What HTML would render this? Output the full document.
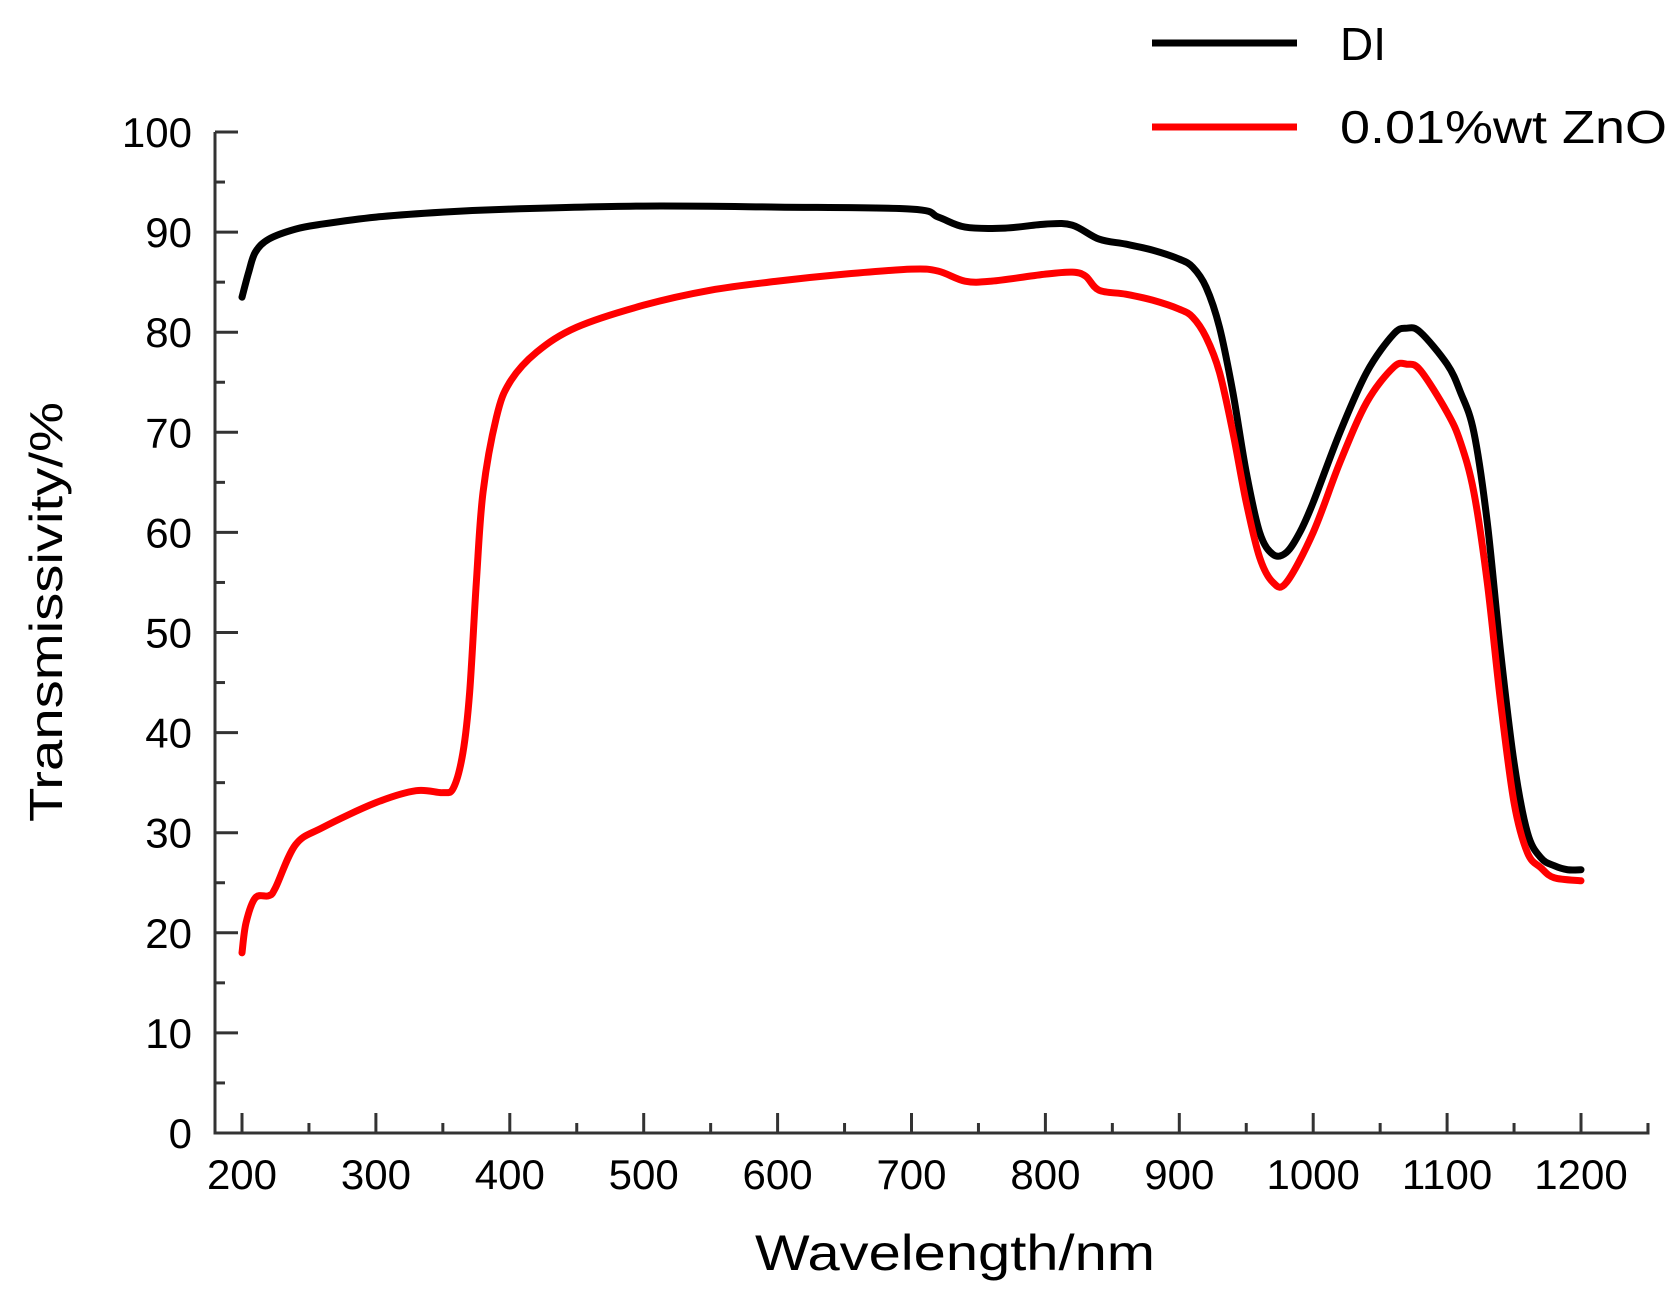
<!DOCTYPE html>
<html><head><meta charset="utf-8"><style>
html,body{margin:0;padding:0;background:#fff;}
svg{display:block;}
text{font-family:"Liberation Sans",sans-serif;fill:#000;}
</style></head><body>
<svg id="s" width="1680" height="1304" viewBox="0 0 1680 1304" xmlns="http://www.w3.org/2000/svg">
<g id="axes" stroke="#333" stroke-width="3" fill="none"></g>
<g id="lbl"></g>
<path id="di" fill="none" stroke="#000" stroke-width="7" stroke-linejoin="round" stroke-linecap="round"/>
<path id="zn" fill="none" stroke="#f00" stroke-width="7" stroke-linejoin="round" stroke-linecap="round"/>
<line x1="1152" y1="43" x2="1297" y2="43" stroke="#000" stroke-width="7"/>
<line x1="1152" y1="127" x2="1297" y2="127" stroke="#f00" stroke-width="7"/>
<text x="1340" y="60" font-size="46">DI</text>
<text x="1340" y="143" font-size="46" textLength="327" lengthAdjust="spacingAndGlyphs">0.01%wt ZnO</text>
<text x="955" y="1270" font-size="50" text-anchor="middle" textLength="400" lengthAdjust="spacingAndGlyphs">Wavelength/nm</text>
<text transform="translate(62,612) rotate(-90)" font-size="46" text-anchor="middle" textLength="420" lengthAdjust="spacingAndGlyphs">Transmissivity/%</text>
</svg>
<script>
var X=function(w){return 242+1.339*(w-200)},Y=function(v){return 1133-10.01*v};
var ax=document.getElementById('axes'),lb=document.getElementById('lbl'),h='',t='';
h+='<path d="M215 132 L215 1133 L1648 1133 L1648 1123"/>';
for(var v=0;v<=100;v+=5){var y=Y(v);h+='<line x1="215" y1="'+y+'" x2="'+(v%10?225:238)+'" y2="'+y+'"/>';
 if(v%10==0)t+='<text x="192" y="'+(y+15)+'" font-size="42" text-anchor="end">'+v+'</text>';}
for(var w=200;w<=1250;w+=50){var x=X(w);h+='<line x1="'+x+'" y1="1133" x2="'+x+'" y2="'+(w%100?1123:1113)+'"/>';
 if(w%100==0&&w<=1200)t+='<text x="'+x+'" y="1189" font-size="42" text-anchor="middle">'+w+'</text>';}
ax.innerHTML=h;lb.innerHTML=t;
var di=[[200,83.5],[205,86],[210,88],[220,89.3],[240,90.3],[260,90.8],[300,91.5],[350,92],[400,92.3],[500,92.6],[600,92.5],[700,92.3],[720,91.5],[740,90.5],[770,90.4],[800,90.8],[820,90.7],[840,89.3],[860,88.8],[880,88.2],[900,87.3],[910,86.5],[920,84.5],[930,80.5],[940,74],[950,66],[960,60],[970,57.8],[980,58],[990,60],[1000,63],[1020,70],[1040,76],[1060,79.8],[1070,80.4],[1080,80],[1100,76.8],[1110,74],[1120,70],[1130,61],[1140,48],[1150,37],[1160,30],[1170,27.5],[1180,26.7],[1190,26.3],[1200,26.3]];
var zn=[[200,18],[203,21],[210,23.5],[220,23.7],[225,24.5],[240,28.8],[260,30.5],[300,33],[330,34.2],[350,34],[358,34.5],[365,38],[370,44],[375,55],[380,64],[390,71.5],[400,75],[420,78],[450,80.5],[500,82.7],[550,84.2],[600,85.1],[650,85.8],[700,86.3],[720,86.1],[740,85.1],[760,85.1],[800,85.8],[820,86],[830,85.6],[840,84.2],[860,83.8],[880,83.2],[900,82.3],[910,81.5],[920,79.5],[930,76],[940,70],[950,63],[960,57.5],[970,55],[980,55],[1000,60],[1020,67],[1040,73],[1060,76.5],[1070,76.8],[1080,76.2],[1100,72],[1110,69],[1120,64],[1130,55],[1140,43],[1150,33],[1160,28],[1170,26.5],[1180,25.5],[1200,25.2]];
function path(a){var p=a.map(function(q){return [X(q[0]),Y(q[1])]});var d='M'+p[0][0]+' '+p[0][1];
for(var i=0;i<p.length-1;i++){var p0=p[i-1]||p[i],p1=p[i],p2=p[i+1],p3=p[i+2]||p2;
d+=' C'+(p1[0]+(p2[0]-p0[0])/6)+' '+(p1[1]+(p2[1]-p0[1])/6)+' '+(p2[0]-(p3[0]-p1[0])/6)+' '+(p2[1]-(p3[1]-p1[1])/6)+' '+p2[0]+' '+p2[1];}return d;}
document.getElementById('di').setAttribute('d',path(di));
document.getElementById('zn').setAttribute('d',path(zn));
</script>
</body></html>
